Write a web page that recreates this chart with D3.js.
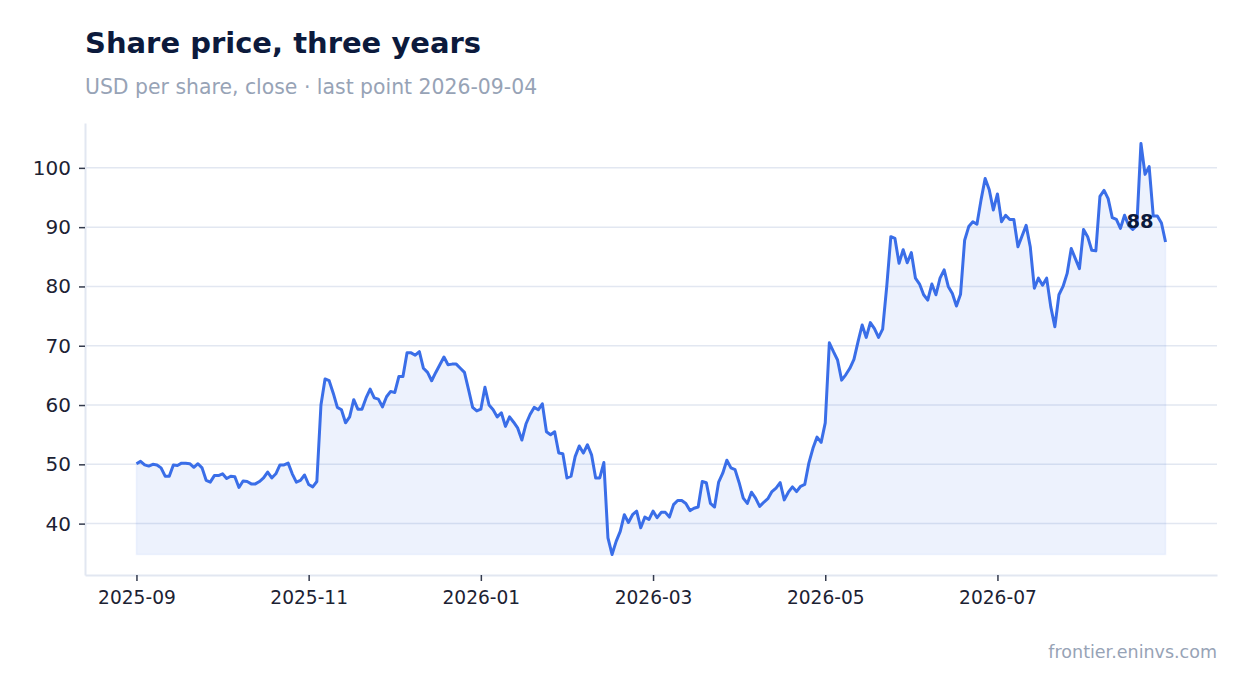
<!DOCTYPE html>
<html>
<head>
<meta charset="utf-8">
<script src="https://cdn.jsdelivr.net/npm/d3@7"></script>
<style>
  body { margin: 0; background: #fff; }
  svg { display: block; font-family: "DejaVu Sans", sans-serif; }
</style>
</head>
<body>
<div id="chart"></div>
<script>
// closing prices, one point per trading day (252 points)
const prices = [
  50.1, 50.5, 49.9, 49.7, 50.0, 49.9, 49.4, 48.0, 48.0, 49.9,
  49.8, 50.2, 50.2, 50.1, 49.5, 50.1, 49.4, 47.3, 47.0, 48.1,
  48.1, 48.4, 47.6, 48.0, 47.9, 46.1, 47.2, 47.1, 46.7, 46.7,
  47.1, 47.7, 48.7, 47.7, 48.4, 49.9, 49.9, 50.2, 48.4, 47.0,
  47.3, 48.2, 46.6, 46.2, 47.1, 60.0, 64.4, 64.1, 62.0, 59.6,
  59.2, 57.0, 58.0, 60.9, 59.3, 59.3, 61.2, 62.7, 61.2, 61.0,
  59.7, 61.4, 62.3, 62.1, 64.8, 64.8, 68.8, 68.8, 68.4, 69.0,
  66.2, 65.5, 64.1, 65.5, 66.8, 68.1, 66.8, 66.9, 66.9, 66.2,
  65.5, 62.6, 59.6, 59.0, 59.3, 63.0, 60.0, 59.2, 58.0, 58.7,
  56.4, 58.0, 57.1, 56.1, 54.1, 56.8, 58.4, 59.6, 59.2, 60.2,
  55.5, 55.0, 55.5, 51.9, 51.8, 47.7, 48.0, 51.3, 53.1, 51.9,
  53.3, 51.6, 47.7, 47.7, 50.3, 37.6, 34.8, 37.0, 38.7, 41.5,
  40.2, 41.5, 42.1, 39.3, 41.1, 40.7, 42.1, 41.0, 41.9, 41.9,
  41.1, 43.2, 43.9, 43.9, 43.4, 42.2, 42.6, 42.8, 47.1, 46.9,
  43.4, 42.8, 47.0, 48.5, 50.7, 49.4, 49.1, 46.9, 44.3, 43.4,
  45.3, 44.3, 42.9, 43.6, 44.2, 45.4, 46.0, 46.9, 44.0, 45.3,
  46.2, 45.4, 46.3, 46.6, 50.2, 52.7, 54.6, 53.7, 57.0, 70.5,
  69.0, 67.6, 64.2, 65.1, 66.2, 67.7, 70.7, 73.5, 71.4, 73.9,
  72.9, 71.4, 72.8, 80.0, 88.4, 88.1, 83.9, 86.2, 84.0, 85.7,
  81.4, 80.4, 78.6, 77.7, 80.4, 78.6, 81.4, 82.8, 80.0, 78.8,
  76.7, 78.7, 87.8, 90.1, 90.9, 90.5, 94.6, 98.2, 96.3, 92.9,
  95.6, 90.9, 92.0, 91.3, 91.3, 86.7, 88.5, 90.3, 86.7, 79.7,
  81.4, 80.2, 81.4, 76.6, 73.2, 78.6, 80.0, 82.2, 86.4, 84.7,
  83.0, 89.6, 88.4, 86.1, 86.0, 95.2, 96.2, 94.8, 91.6, 91.3,
  89.8, 92.0, 90.3, 89.6, 90.3, 104.1, 98.9, 100.2, 91.9, 91.9,
  90.7, 87.5
]

// month labels sit every 42 trading days
const tickIndex = [0, 42, 84, 126, 168, 210]
const tickLabels = ['2025-09', '2025-11', '2026-01', '2026-03', '2026-05', '2026-07']
const yTicks = [40, 50, 60, 70, 80, 90, 100]

const title = 'Share price, three years'
const subtitle = 'USD per share, close · last point 2026-09-04'
const source = 'frontier.eninvs.com'

let width = 1247,
    height = 693
let margin = { top: 123, right: 30, bottom: 118, left: 85 }

let svg = d3.select('#chart')
    .append('svg')
    .attr('width', width)
    .attr('height', height)

const n = prices.length
const padX = (n - 1) * 0.05
const lo = d3.min(prices), hi = d3.max(prices)
const padY = (hi - lo) * 0.05

let x = d3.scaleLinear()
    .domain([-padX, n - 1 + padX])
    .range([margin.left, width - margin.right])

let y = d3.scaleLinear()
    .domain([lo - padY, hi + padY])
    .range([height - margin.bottom, margin.top])

// grid
svg.append('g')
    .selectAll('line')
    .data(yTicks)
    .enter()
    .append('line')
    .attr('x1', margin.left)
    .attr('x2', width - margin.right)
    .attr('y1', d => y(d))
    .attr('y2', d => y(d))
    .attr('stroke', '#e2e7f1')
    .attr('stroke-width', 1.5)

// area down to the lowest close
let area = d3.area()
    .x((d, i) => x(i))
    .y0(y(lo))
    .y1(d => y(d))

svg.append('path')
    .datum(prices)
    .attr('d', area)
    .attr('fill', '#3a6ee8')
    .attr('fill-opacity', 0.09)
    .attr('stroke', '#3a6ee8')
    .attr('stroke-opacity', 0.06)
    .attr('stroke-width', 1.5)

let line = d3.line()
    .x((d, i) => x(i))
    .y(d => y(d))

svg.append('path')
    .datum(prices)
    .attr('d', line)
    .attr('fill', 'none')
    .attr('stroke', '#3a6ee8')
    .attr('stroke-width', 3)
    .attr('stroke-linejoin', 'round')

// axes
let yAxis = svg.append('g')
    .attr('transform', `translate(${margin.left},0)`)
    .call(d3.axisLeft(y).tickValues(yTicks).tickSize(6).tickSizeOuter(0).tickPadding(8))

let xAxis = svg.append('g')
    .attr('transform', `translate(0,${height - margin.bottom})`)
    .call(d3.axisBottom(x).tickValues(tickIndex)
        .tickFormat((d, i) => tickLabels[i])
        .tickSize(6).tickSizeOuter(0).tickPadding(10))

yAxis.select('.domain').attr('stroke', '#e2e7f1').attr('stroke-width', 2)
xAxis.select('.domain').attr('stroke', '#e2e7f1').attr('stroke-width', 2)
yAxis.selectAll('.tick line').attr('stroke', '#333a4d').attr('stroke-width', 1.5)
xAxis.selectAll('.tick line').attr('stroke', '#333a4d').attr('stroke-width', 1.5)
yAxis.selectAll('.tick text')
    .attr('fill', '#1c2233')
    .style('font-size', '20px')
    .style('font-family', '"DejaVu Sans", sans-serif')
xAxis.selectAll('.tick text')
    .attr('fill', '#1c2233')
    .style('font-size', '18.6px')
    .style('font-family', '"DejaVu Sans", sans-serif')

// last value label
const last = prices[n - 1]
svg.append('text')
    .attr('x', x(n - 1) - 12)
    .attr('y', y(last) - 14)
    .attr('text-anchor', 'end')
    .attr('fill', '#0c1a3c')
    .style('font-size', '19.5px')
    .style('font-weight', 'bold')
    .text(d3.format('.0f')(last))

// titles
svg.append('text')
    .attr('x', margin.left)
    .attr('y', 53)
    .attr('fill', '#0c1a3c')
    .style('font-size', '29px')
    .style('font-weight', 'bold')
    .text(title)

svg.append('text')
    .attr('x', margin.left)
    .attr('y', 94)
    .attr('fill', '#97a3b6')
    .style('font-size', '20.4px')
    .text(subtitle)

svg.append('text')
    .attr('x', width - margin.right)
    .attr('y', 658)
    .attr('text-anchor', 'end')
    .attr('fill', '#97a3b6')
    .style('font-size', '17.5px')
    .text(source)
</script>
</body>
</html>
